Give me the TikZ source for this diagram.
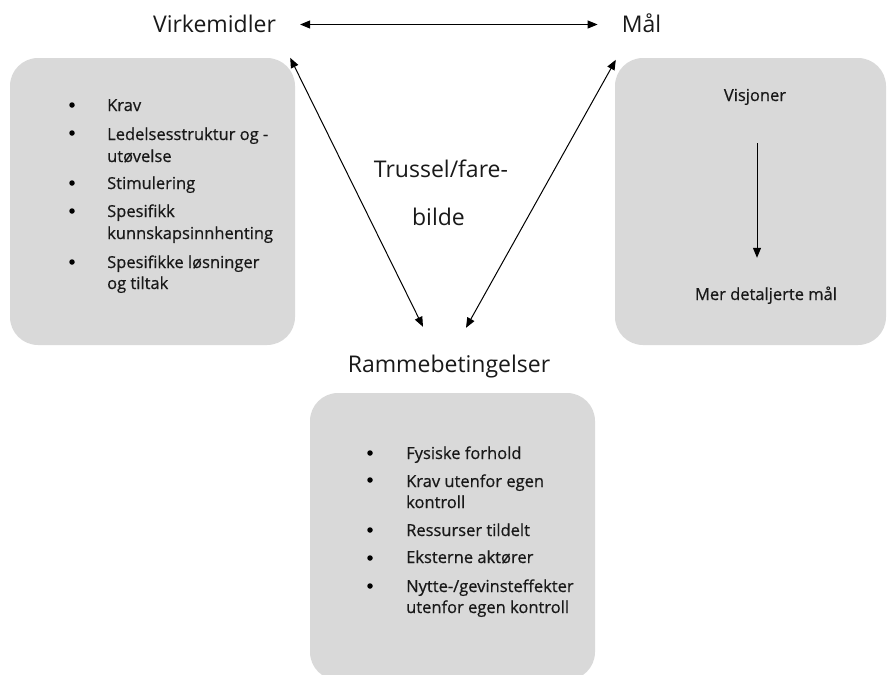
\documentclass[tikz,border=0pt]{standalone}
\usepackage{fontspec}
\setmainfont{Open Sans}
\newfontfamily\itemfont{Open Sans}[FakeBold=0.6]
\usetikzlibrary{arrows.meta,positioning}

\begin{document}
\begin{tikzpicture}[
	x=1pt, y=1pt,
	>={Triangle[length=10pt,width=8pt]},
	panel/.style={
		rectangle, rounded corners=28pt,
		draw=none, fill=black!15,
		inner sep=0pt
	},
	title/.style={
		font=\fontsize{23}{27}\selectfont, text=black!90,
		text height=17pt, text depth=2pt,
		inner xsep=24pt, inner ysep=0pt
	},
	item/.style={
		font=\itemfont\fontsize{16.5}{20}\selectfont, text=black!90,
		text height=12pt, text depth=4pt,
		inner sep=0pt
	},
	dot/.style={circle, fill=black, inner sep=0pt, minimum size=5.5pt},
	arr/.style={->, line width=1pt, black},
	dbl/.style={<->, line width=1pt, black}
]

\useasboundingbox (0,0) rectangle (887,-675);
\clip (0,0) rectangle (887,-675);

% Boxes
\node[panel, minimum width=285pt, minimum height=287pt] (lbox) at (152.5,-201.5) {};
\node[panel, minimum width=271pt, minimum height=287pt] (rbox) at (750.5,-201.5) {};
\node[panel, minimum width=285pt, minimum height=287pt] (bbox) at (452.5,-536.5) {};

% Titles
\node[title, anchor=base] (virk)  at (214.5,-32) {Virkemidler};
\node[title, anchor=base] (maal)  at (641.5,-32) {Mål};
\node[title, anchor=base] (ramme) at (449,-372)  {Rammebetingelser};
\node[title, anchor=base] (truss) at (441,-177)  {Trussel/fare-};
\node[title, anchor=base] (bilde) at (438.5,-225) {bilde};

\draw[dbl] (virk.east) -- (maal.west);
\draw[dbl] ([xshift=-5pt]lbox.north east) -- ([shift={(-26,28)}]ramme.north);
\draw[dbl] ([shift={(1,-2)}]rbox.north west) -- ([shift={(17,27)}]ramme.north);

% Left list
\foreach \y [count=\i] in {105,133,183,211,262}
	\node[dot] (lb\i) at (72,-\y) {};
\foreach \y/\t [count=\i] in {111/Krav, 140/Ledelsesstruktur og -, 162/utøvelse,
	189/Stimulering, 217/Spesifikk, 239/kunnskapsinnhenting,
	268/Spesifikke løsninger, 289/og tiltak}
	\node[item, anchor=base west] (lt\i) at (107,-\y) {\t};

% Right box
\node[item, anchor=base] (vis) at (755,-101) {Visjoner};
\node[item, anchor=base] (mer) at (766,-300) {Mer detaljerte mål};
\draw[arr, shorten <=38pt, shorten >=30pt]
	([xshift=2pt]vis.south) -- ([xshift=2pt]vis.south |- mer.north);

% Bottom list
\foreach \y [count=\i] in {453,480,530,558,586}
	\node[dot] (bb\i) at (370,-\y) {};
\foreach \y/\t [count=\i] in {459/Fysiske forhold, 487/Krav utenfor egen, 508/kontroll,
	536/Ressurser tildelt, 563/Eksterne aktører, 592/{Nytte-/gevinsteffekter},
	613/utenfor egen kontroll}
	\node[item, anchor=base west] (bt\i) at (406,-\y) {\t};

\end{tikzpicture}
\end{document}
